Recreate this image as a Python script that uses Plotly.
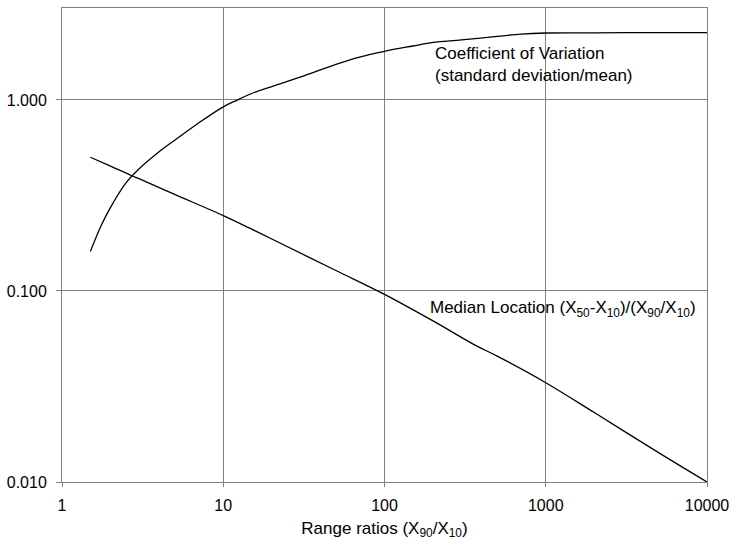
import plotly.graph_objects as go

# Range ratio values (X90/X10)
cv_x = [1.5, 1.75, 2, 2.5, 3, 4, 5, 7, 10, 12.1, 15, 20, 30, 50, 70, 100, 150, 200, 300, 500, 700, 1000, 2000, 5000, 10000]
cv_y = [0.161, 0.22, 0.274, 0.369, 0.435, 0.535, 0.615, 0.755, 0.92, 0.995, 1.08, 1.175, 1.315, 1.534, 1.675, 1.796, 1.915, 2.0, 2.06, 2.15, 2.21, 2.24, 2.245, 2.25, 2.25]

med_x = [1.5, 2, 2.69, 3, 5, 10, 14.6, 20, 50, 100, 200, 367, 500, 1000, 2000, 5035, 10000]
med_y = [0.501, 0.45, 0.402, 0.387, 0.32, 0.248, 0.213, 0.187, 0.128, 0.096, 0.0697, 0.0519, 0.0456, 0.0331, 0.0231, 0.0142, 0.01]

x_ticks = [1, 10, 100, 1000, 10000]
x_ticktext = ["1", "10", "100", "1000", "10000"]
y_ticks = [0.01, 0.1, 1]
y_ticktext = ["0.010", "0.100", "1.000"]

FONT = "Liberation Sans, Arial, sans-serif"
GRID = "#808080"

fig = go.Figure()
fig.add_trace(go.Scatter(x=cv_x, y=cv_y, mode="lines", line=dict(color="black", width=1.3),
                         line_shape="spline", showlegend=False))
fig.add_trace(go.Scatter(x=med_x, y=med_y, mode="lines", line=dict(color="black", width=1.3),
                         line_shape="spline", showlegend=False))

fig.add_annotation(x=2.301, y=0.1846, xref="x", yref="y",
                   text="Coefficient of Variation<br>(standard deviation/mean)",
                   showarrow=False, xanchor="left", yanchor="middle", align="left",
                   font=dict(family=FONT, size=17, color="black"))
fig.add_annotation(x=2.271, y=-1.097, xref="x", yref="y",
                   text="Median Location (X<sub>50</sub>-X<sub>10</sub>)/(X<sub>90</sub>/X<sub>10</sub>)",
                   showarrow=False, xanchor="left", yanchor="middle", align="left",
                   font=dict(family=FONT, size=17, color="black"))

fig.update_layout(
    width=736, height=544,
    margin=dict(l=59, r=20, t=7, b=62),
    paper_bgcolor="white", plot_bgcolor="white",
    font=dict(family=FONT, size=15, color="black"),
    xaxis=dict(type="log", range=[0, 4], tickvals=x_ticks, ticktext=x_ticktext,
               showgrid=True, gridcolor=GRID, gridwidth=1,
               showline=True, linecolor=GRID, linewidth=1, mirror=True,
               ticks="outside", ticklen=4, tickcolor=GRID, zeroline=False,
               ticklabeloverflow="allow", ticklabelstandoff=5,
               tickfont=dict(family=FONT, size=16),
               title=dict(text="Range ratios (X<sub>90</sub>/X<sub>10</sub>)",
                          font=dict(family=FONT, size=17), standoff=8)),
    yaxis=dict(type="log", range=[-2, 0.481], tickvals=y_ticks, ticktext=y_ticktext,
               showgrid=True, gridcolor=GRID, gridwidth=1,
               showline=True, linecolor=GRID, linewidth=1, mirror=True,
               ticks="outside", ticklen=5, tickcolor=GRID, zeroline=False,
               ticklabelstandoff=6, tickfont=dict(family=FONT, size=16)),
)

fig.write_html("out.html")
